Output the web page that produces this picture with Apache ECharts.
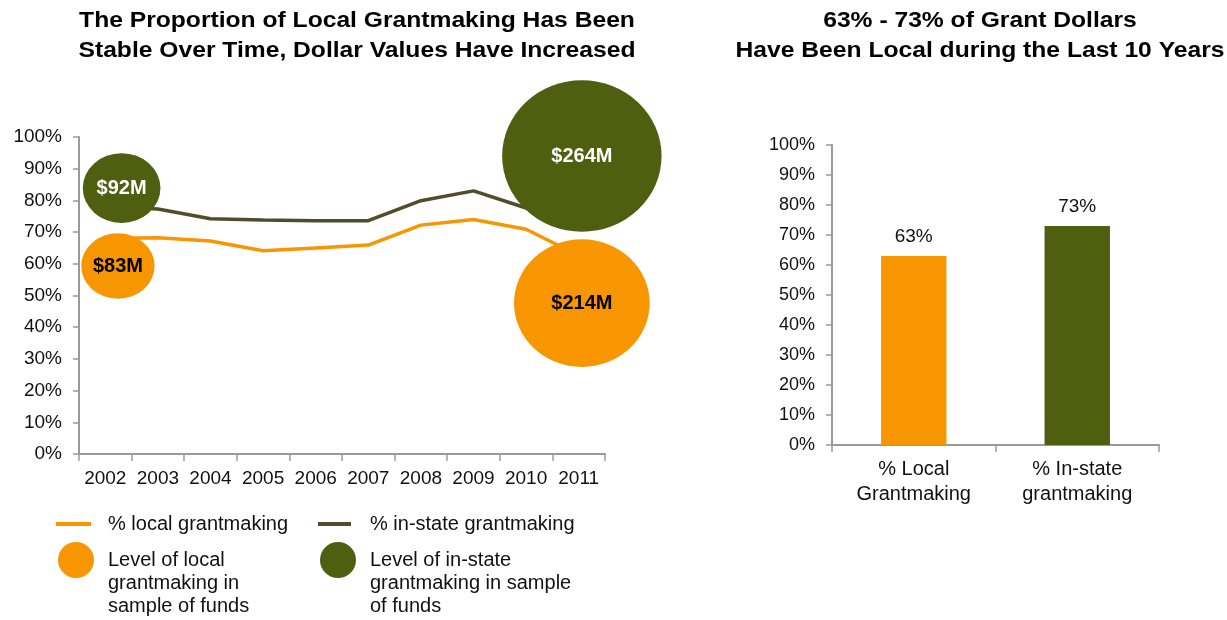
<!DOCTYPE html>
<html>
<head>
<meta charset="utf-8">
<script src="https://cdn.jsdelivr.net/npm/echarts@6/dist/echarts.min.js"></script>
<style>html,body{margin:0;padding:0;background:#fff}#c{width:1227px;height:620px}</style>
</head>
<body>
<div id="c"></div>
<script>
// ---- data ----
const years = ['2002','2003','2004','2005','2006','2007','2008','2009','2010','2011'];
const localPct = [68, 68.2, 67.2, 64.1, 65, 65.9, 72.2, 74.0, 70.9, 62.6];
const instatePct = [78, 77.3, 74.2, 73.8, 73.6, 73.6, 79.9, 83.0, 77.6, 75];
// bubbles: [year position, % position, $ millions]
const localBubbles = [[2002.24, 59.3, 83], [2011.06, 47.6, 214]];
const instateBubbles = [[2002.31, 83.9, 92], [2011.06, 94.0, 264]];
const barCats = ['% Local\nGrantmaking', '% In-state\ngrantmaking'];
const barVals = [63, 73];

const FONT = 'Arial, "Liberation Sans", sans-serif';
const ORANGE = '#F79600';
const GREEN = '#4F5E0F';
const DARKLINE = '#514D2A';
const AXIS = '#9a9a9a';

const names = {
  lLine: '% local grantmaking',
  iLine: '% in-state grantmaking',
  lBub: 'Level of local grantmaking in sample of funds',
  iBub: 'Level of in-state grantmaking in sample of funds'
};
const legendBreaks = {};
legendBreaks[names.lBub] = 'Level of local\ngrantmaking in\nsample of funds';
legendBreaks[names.iBub] = 'Level of in-state\ngrantmaking in sample\nof funds';

// circle icon sitting at the top of a taller (empty) box so it lines up with the first text line
const CIRCLE_TOP_ICON = 'path://M0,18 A18,18 0 1,1 36,18 A18,18 0 1,1 0,18 Z M18,82 L18,82 Z';

function bubbleSize(d) { const v = d[2]; return [34 + 0.475 * v, 26 + 0.475 * v]; }

const chart = echarts.init(document.getElementById('c'), null, {renderer: 'canvas'});

const yAxisCommon = {
  type: 'value', min: 0, max: 100, interval: 10,
  axisLine: {show: true, lineStyle: {color: AXIS, width: 2}},
  axisTick: {show: true, length: 6, lineStyle: {color: AXIS, width: 1.5}},
  splitLine: {show: false},
  axisLabel: {formatter: v => v + '%', color: '#111', fontFamily: FONT}
};

const titleStyle = {textAlign: 'center', textVerticalAlign: 'top', fontFamily: FONT, fontSize: 22, fontWeight: 'bold', lineHeight: 30, fill: '#000'};

const option = {
  animation: false,
  backgroundColor: '#fff',
  textStyle: {fontFamily: FONT},
  graphic: [
    {type: 'text', x: 357, y: 6, scaleX: 1.12, style: Object.assign({text: 'The Proportion of Local Grantmaking Has Been\nStable Over Time, Dollar Values Have Increased'}, titleStyle)},
    {type: 'text', x: 980, y: 6, scaleX: 1.12, style: Object.assign({text: '63% - 73% of Grant Dollars\nHave Been Local during the Last 10 Years'}, titleStyle)}
  ],
  legend: [
    {data: [names.lLine], left: 56, top: 514, padding: 0, icon: 'rect', itemWidth: 35, itemHeight: 4,
     textStyle: {fontSize: 20, color: '#111', fontFamily: FONT, padding: [0, 0, 0, 12]}},
    {data: [names.iLine], left: 318, top: 514, padding: 0, icon: 'rect', itemWidth: 33, itemHeight: 4,
     textStyle: {fontSize: 20, color: '#111', fontFamily: FONT, padding: [0, 0, 0, 14]}},
    {data: [names.lBub], left: 58, top: 542, padding: 0, icon: CIRCLE_TOP_ICON, itemWidth: 36, itemHeight: 82,
     formatter: n => legendBreaks[n],
     textStyle: {fontSize: 20, lineHeight: 23, color: '#111', fontFamily: FONT, padding: [0, 0, 0, 9]}},
    {data: [names.iBub], left: 320, top: 542, padding: 0, icon: CIRCLE_TOP_ICON, itemWidth: 36, itemHeight: 82,
     formatter: n => legendBreaks[n],
     textStyle: {fontSize: 20, lineHeight: 23, color: '#111', fontFamily: FONT, padding: [0, 0, 0, 9]}}
  ],
  grid: [
    {left: 79, right: 622, top: 137, bottom: 166},
    {left: 832, right: 68, top: 145, bottom: 175}
  ],
  xAxis: [
    {type: 'category', gridIndex: 0, data: years, boundaryGap: true,
     axisLine: {lineStyle: {color: AXIS, width: 2}},
     axisTick: {show: true, length: 7, lineStyle: {color: AXIS, width: 1.5}},
     axisLabel: {color: '#111', fontSize: 19, fontFamily: FONT, margin: 15, interval: 0}},
    {type: 'category', gridIndex: 1, data: barCats, boundaryGap: true,
     axisLine: {lineStyle: {color: AXIS, width: 2}},
     axisTick: {show: true, length: 7, lineStyle: {color: AXIS, width: 1.5}},
     axisLabel: {color: '#111', fontSize: 20, lineHeight: 25, fontFamily: FONT, margin: 12, interval: 0}},
    {type: 'value', gridIndex: 0, min: 2001.5, max: 2011.5, show: false}
  ],
  yAxis: [
    Object.assign({}, yAxisCommon, {gridIndex: 0, axisLabel: Object.assign({}, yAxisCommon.axisLabel, {fontSize: 19, margin: 17})}),
    Object.assign({}, yAxisCommon, {gridIndex: 1, axisLabel: Object.assign({}, yAxisCommon.axisLabel, {fontSize: 18, margin: 17})})
  ],
  series: [
    {name: names.lLine, type: 'line', xAxisIndex: 0, yAxisIndex: 0, data: localPct, symbol: 'none',
     lineStyle: {color: ORANGE, width: 3.5}, itemStyle: {color: ORANGE}, z: 2},
    {name: names.iLine, type: 'line', xAxisIndex: 0, yAxisIndex: 0, data: instatePct, symbol: 'none',
     lineStyle: {color: DARKLINE, width: 3.5}, itemStyle: {color: DARKLINE}, z: 2},
    {name: names.lBub, type: 'scatter', xAxisIndex: 2, yAxisIndex: 0, data: localBubbles, clip: false,
     symbolSize: bubbleSize, itemStyle: {color: ORANGE, opacity: 1}, z: 5,
     label: {show: true, position: 'inside', formatter: p => '$' + p.data[2] + 'M', color: '#000', fontSize: 20, fontWeight: 'bold', fontFamily: FONT}},
    {name: names.iBub, type: 'scatter', xAxisIndex: 2, yAxisIndex: 0, data: instateBubbles, clip: false,
     symbolSize: bubbleSize, itemStyle: {color: GREEN, opacity: 1}, z: 5,
     label: {show: true, position: 'inside', formatter: p => '$' + p.data[2] + 'M', color: '#fff', fontSize: 20, fontWeight: 'bold', fontFamily: FONT}},
    {name: 'bars', type: 'bar', xAxisIndex: 1, yAxisIndex: 1, barWidth: '40%',
     data: barVals.map((v, i) => ({value: v, itemStyle: {color: i === 0 ? ORANGE : GREEN}})),
     label: {show: true, position: 'top', distance: 10, formatter: p => p.value + '%', color: '#111', fontSize: 19, fontFamily: FONT}}
  ]
};
chart.setOption(option);
</script>
</body>
</html>
